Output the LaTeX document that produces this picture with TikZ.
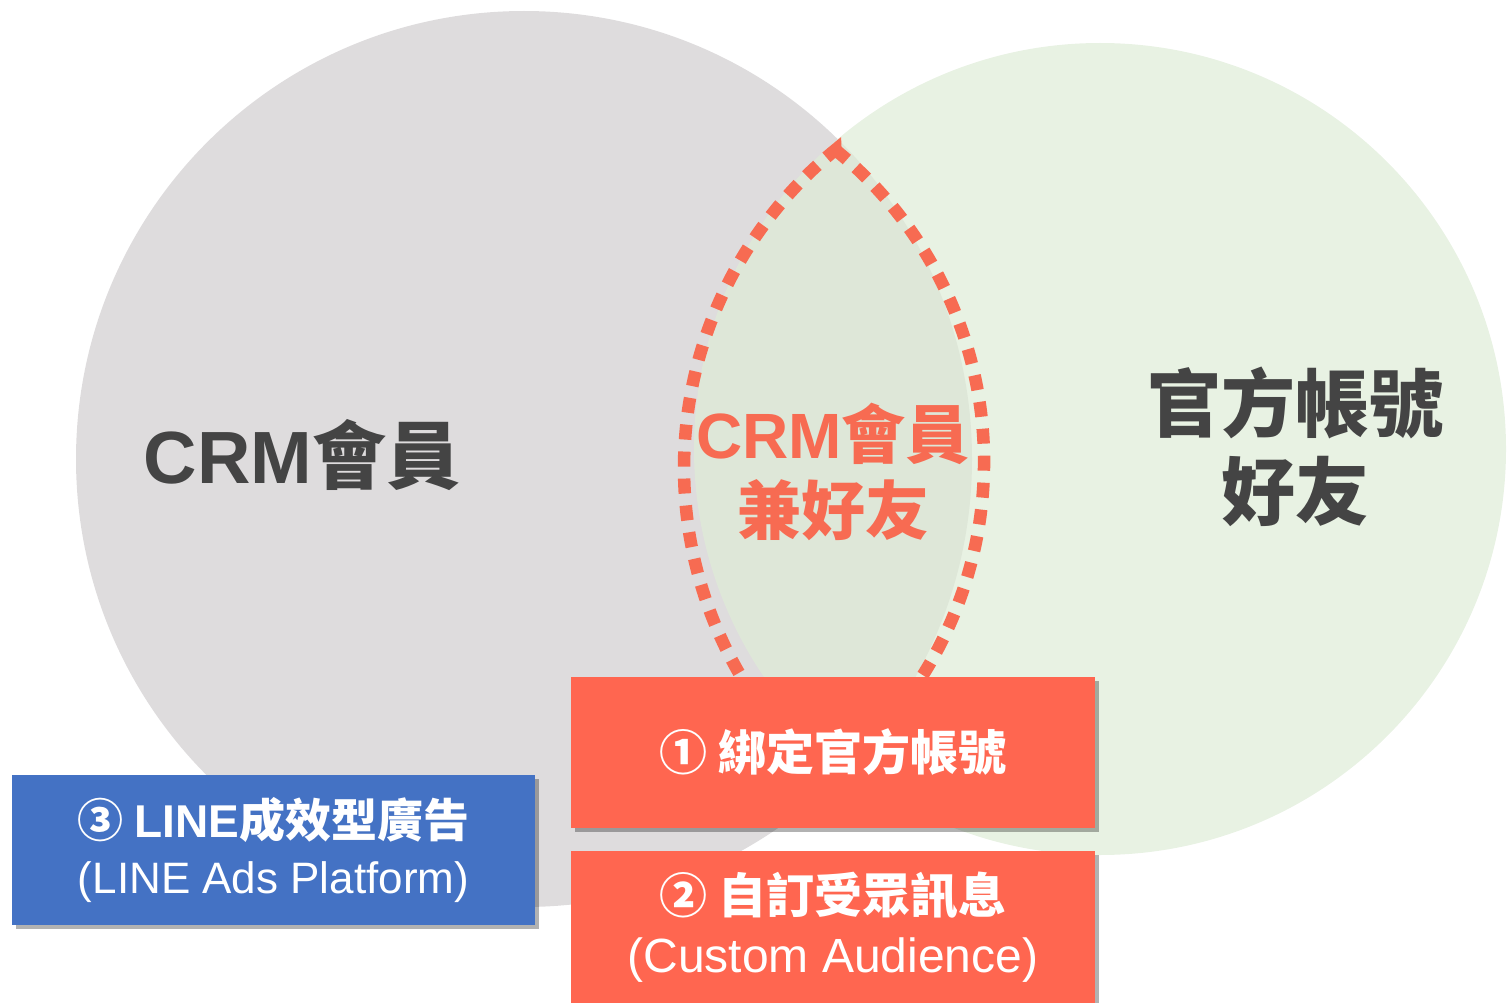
\documentclass[tikz,border=0pt]{standalone}
\usepackage{fontspec}
\setmainfont{Liberation Sans}
\newfontfamily\cjk{Noto Sans CJK TC}
\usetikzlibrary{shadows}

\definecolor{crmgray}{HTML}{DEDCDD}
\definecolor{oagreen}{RGB}{222,236,215}
\definecolor{tomato}{HTML}{FF6650}
\definecolor{lensred}{HTML}{F76B52}
\definecolor{adblue}{HTML}{4472C4}
\definecolor{labelgray}{HTML}{444444}

\tikzset{
    bigtag/.style={align=center, text=labelgray, font=\bfseries\fontsize{74}{88}\selectfont},
    stepbox/.style={fill=tomato, text=white, align=center, inner sep=0pt,
        minimum width=524pt, minimum height=151pt,
        font=\bfseries\fontsize{48}{59}\selectfont,
        drop shadow={shadow xshift=4pt, shadow yshift=-4pt, opacity=.3, fill=black}},
    lensline/.style={lensred, line width=12.5pt, dash pattern=on 15pt off 12pt}
}

\begin{document}
\begin{tikzpicture}[x=1pt, y=1pt]
    \useasboundingbox (0,0) rectangle (1509,-1003);
    \clip (0,0) rectangle (1509,-1003);

    \fill[crmgray] (524,-459) circle (448);
    \fill[oagreen, opacity=.7] (1100,-449) circle (406);

    \draw[lensline] (835.4,-149.9)
        arc[start angle=50.93, end angle=-52.27, radius=402]
        arc[start angle=229.55, end angle=129.11, radius=410] -- cycle;

    \node[bigtag] (crm) at (302,-455) {CRM{\cjk 會員}};
    \node[bigtag] (oa) at (1295,-447) {{\cjk 官方帳號}\\{\cjk 好友}};
    \node[bigtag, text=lensred, font=\bfseries\fontsize{64}{76}\selectfont] (both) at (833,-472)
        {CRM{\cjk 會員}\\{\cjk 兼好友}};

    \node[stepbox] (bind) at (833,-752.5) {{\cjk ① 綁定官方帳號}};
    \node[stepbox, minimum height=152pt] (custom) at (833,-927)
        {{\cjk ② 自訂受眾訊息}\\{\mdseries (Custom Audience)}};
    \node[stepbox, fill=adblue, minimum width=523pt, minimum height=150pt,
        font=\bfseries\fontsize{46}{56}\selectfont] (lap) at (273.5,-850)
        {{\cjk ③ }LINE{\cjk 成效型廣告}\\{\mdseries\fontsize{44}{56}\selectfont (LINE Ads Platform)}};
\end{tikzpicture}
\end{document}
